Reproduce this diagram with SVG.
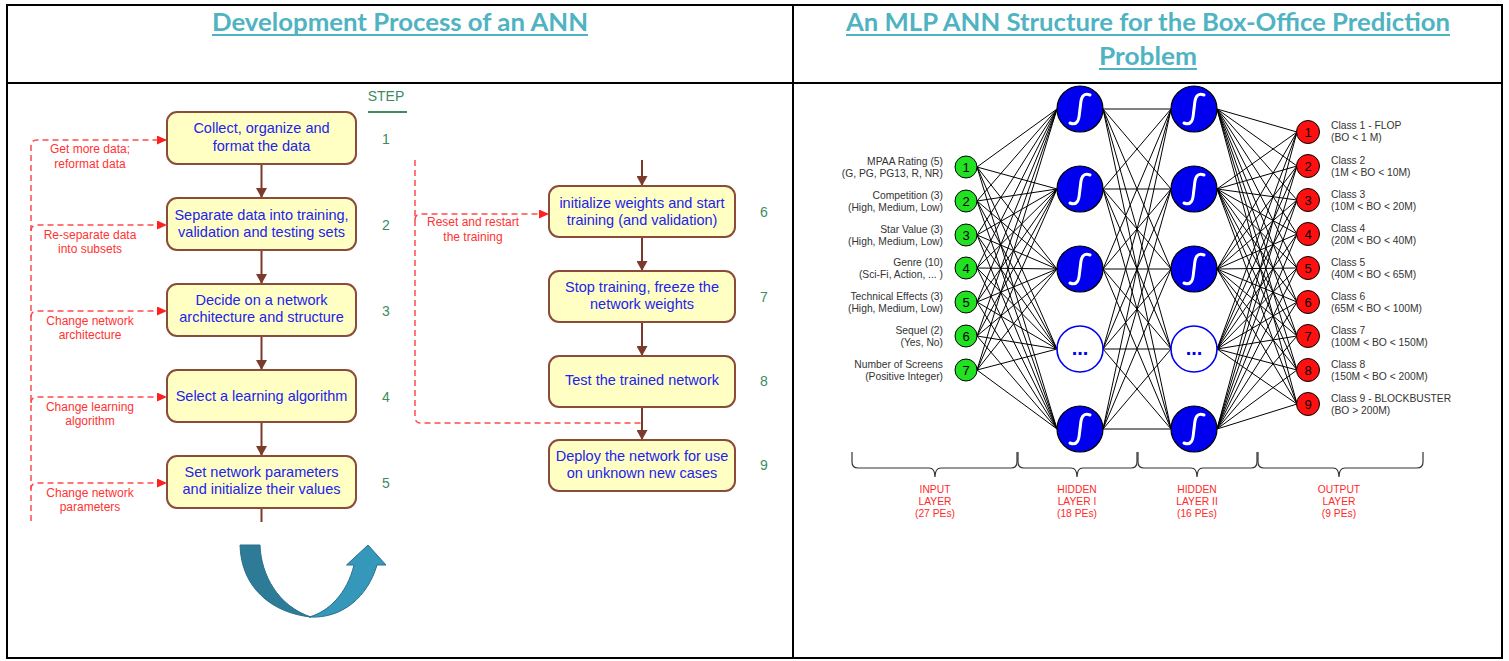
<svg xmlns="http://www.w3.org/2000/svg" xmlns:xlink="http://www.w3.org/1999/xlink" width="1509" height="661" viewBox="0 0 1509 661">
<style>
.frame{fill:none;stroke:#000;stroke-width:2}
.title{font-family:Lato,"Open Sans","Liberation Sans",sans-serif;font-weight:700;font-size:24px;fill:#4fb3c2;text-anchor:middle}
.tu{stroke:#4fb3c2;stroke-width:2}
.box{fill:#ffffc4;stroke:#8a4b3b;stroke-width:2}
.bt{font-family:"Liberation Sans",Arial,sans-serif;font-size:14.5px;fill:#2222ee;text-anchor:middle}
.rl{font-family:"Liberation Sans",Arial,sans-serif;font-size:12px;fill:#ff3333;text-anchor:middle}
.sn{font-family:"Liberation Sans",Arial,sans-serif;font-size:14px;fill:#3c8c5c;text-anchor:middle}
.flow{stroke:#7b3a2c;stroke-width:2;fill:none}
.fb{stroke:#ff4a4a;stroke-width:1.5;stroke-dasharray:6 4;fill:none}
.nl{stroke:#000;stroke-width:1;fill:none}
.in{fill:#22e022;stroke:#000;stroke-width:1}
.out{fill:#ff1010;stroke:#000;stroke-width:1}
.hid{fill:#0000ee;stroke:#000;stroke-width:1.2}
.dots{fill:#fff;stroke:#0000ee;stroke-width:1.6}
.sig{fill:none;stroke:#fff;stroke-width:3;stroke-linecap:round}
.nn{font-family:"Liberation Sans",Arial,sans-serif;font-size:13px;fill:#000;text-anchor:middle}
.dt{font-family:"Liberation Sans",Arial,sans-serif;font-size:20px;font-weight:700;fill:#0000ee;text-anchor:middle}
.lbl{font-family:"Liberation Sans",Arial,sans-serif;font-size:10.3px;fill:#333}
.li{text-anchor:end}
.ll{font-family:"Liberation Sans",Arial,sans-serif;font-size:10.3px;fill:#ff2a2a;text-anchor:middle}
.brace{fill:none;stroke:#333;stroke-width:1.2}
</style>
<defs>
<marker id="ab" markerUnits="userSpaceOnUse" markerWidth="10" markerHeight="11" refX="10" refY="5.5" orient="auto"><path d="M0,0L10,5.5L0,11z" fill="#7b3a2c"/></marker>
<marker id="ar" markerUnits="userSpaceOnUse" markerWidth="10" markerHeight="9" refX="10" refY="4.5" orient="auto"><path d="M0,0L10,4.5L0,9z" fill="#ff2020"/></marker>
<path id="sgm" class="sig" d="M-10,14C-3,17 -1,11 -0.5,4L0.5,-4C1,-11 3,-17 10,-14"/>
</defs>
<rect width="1509" height="661" fill="#fff"/>
<g id="table">
<rect class="frame" x="7" y="5" width="1495" height="653"/>
<line class="frame" x1="7" y1="83" x2="1502" y2="83"/>
<line class="frame" x1="793" y1="5" x2="793" y2="658"/>
</g>
<g id="titles">
<text class="title" x="400" y="31" textLength="376" lengthAdjust="spacingAndGlyphs">Development Process of an ANN</text>
<line class="tu" x1="212" y1="35" x2="588" y2="35"/>
<text class="title" x="1148" y="31" textLength="604" lengthAdjust="spacingAndGlyphs">An MLP ANN Structure for the Box-Office Prediction</text>
<line class="tu" x1="846" y1="35" x2="1450" y2="35"/>
<text class="title" x="1148" y="65" textLength="98" lengthAdjust="spacingAndGlyphs">Problem</text>
<line class="tu" x1="1099" y1="69" x2="1197" y2="69"/>
</g>
<g id="connectors">
<line class="flow" x1="261.5" y1="164" x2="261.5" y2="198" marker-end="url(#ab)"/>
<line class="flow" x1="261.5" y1="250" x2="261.5" y2="284" marker-end="url(#ab)"/>
<line class="flow" x1="261.5" y1="336" x2="261.5" y2="370" marker-end="url(#ab)"/>
<line class="flow" x1="261.5" y1="422" x2="261.5" y2="456" marker-end="url(#ab)"/>
<line class="flow" x1="261.5" y1="508" x2="261.5" y2="522"/>
<line class="flow" x1="642" y1="160" x2="642" y2="186" marker-end="url(#ab)"/>
<line class="flow" x1="642" y1="237" x2="642" y2="271" marker-end="url(#ab)"/>
<line class="flow" x1="642" y1="322" x2="642" y2="356" marker-end="url(#ab)"/>
<line class="flow" x1="642" y1="407" x2="642" y2="440" marker-end="url(#ab)"/>
<path class="fb" d="M31,521V146Q31,140 37,140H167" marker-end="url(#ar)"/>
<path class="fb" d="M31,231Q31,225 37,225H167" marker-end="url(#ar)"/>
<path class="fb" d="M31,317Q31,311 37,311H167" marker-end="url(#ar)"/>
<path class="fb" d="M31,403Q31,397 37,397H167" marker-end="url(#ar)"/>
<path class="fb" d="M31,489Q31,483 37,483H167" marker-end="url(#ar)"/>
<path class="fb" d="M415,160V417Q415,423 421,423H642"/>
<path class="fb" d="M415,220Q415,214 421,214H549" marker-end="url(#ar)"/>
<g id="net-lines">
<path class="nl" d="M977,167L1057,109M977,167L1057,189M977,167L1057,269M977,167L1057,349M977,167L1057,429"/>
<path class="nl" d="M977,201L1057,109M977,201L1057,189M977,201L1057,269M977,201L1057,349M977,201L1057,429"/>
<path class="nl" d="M977,235L1057,109M977,235L1057,189M977,235L1057,269M977,235L1057,349M977,235L1057,429"/>
<path class="nl" d="M977,268L1057,109M977,268L1057,189M977,268L1057,269M977,268L1057,349M977,268L1057,429"/>
<path class="nl" d="M977,302L1057,109M977,302L1057,189M977,302L1057,269M977,302L1057,349M977,302L1057,429"/>
<path class="nl" d="M977,336L1057,109M977,336L1057,189M977,336L1057,269M977,336L1057,349M977,336L1057,429"/>
<path class="nl" d="M977,370L1057,109M977,370L1057,189M977,370L1057,269M977,370L1057,349M977,370L1057,429"/>
<path class="nl" d="M1103,109L1171,109M1103,109L1171,189M1103,109L1171,269M1103,109L1171,349M1103,109L1171,429"/>
<path class="nl" d="M1103,189L1171,109M1103,189L1171,189M1103,189L1171,269M1103,189L1171,349M1103,189L1171,429"/>
<path class="nl" d="M1103,269L1171,109M1103,269L1171,189M1103,269L1171,269M1103,269L1171,349M1103,269L1171,429"/>
<path class="nl" d="M1103,349L1171,109M1103,349L1171,189M1103,349L1171,269M1103,349L1171,349M1103,349L1171,429"/>
<path class="nl" d="M1103,429L1171,109M1103,429L1171,189M1103,429L1171,269M1103,429L1171,349M1103,429L1171,429"/>
<path class="nl" d="M1217,109L1297,132M1217,109L1297,166M1217,109L1297,200M1217,109L1297,234M1217,109L1297,268M1217,109L1297,302M1217,109L1297,336M1217,109L1297,370M1217,109L1297,404"/>
<path class="nl" d="M1217,189L1297,132M1217,189L1297,166M1217,189L1297,200M1217,189L1297,234M1217,189L1297,268M1217,189L1297,302M1217,189L1297,336M1217,189L1297,370M1217,189L1297,404"/>
<path class="nl" d="M1217,269L1297,132M1217,269L1297,166M1217,269L1297,200M1217,269L1297,234M1217,269L1297,268M1217,269L1297,302M1217,269L1297,336M1217,269L1297,370M1217,269L1297,404"/>
<path class="nl" d="M1217,349L1297,132M1217,349L1297,166M1217,349L1297,200M1217,349L1297,234M1217,349L1297,268M1217,349L1297,302M1217,349L1297,336M1217,349L1297,370M1217,349L1297,404"/>
<path class="nl" d="M1217,429L1297,132M1217,429L1297,166M1217,429L1297,200M1217,429L1297,234M1217,429L1297,268M1217,429L1297,302M1217,429L1297,336M1217,429L1297,370M1217,429L1297,404"/>
</g>
</g>
<g id="step-header">
<text class="sn" x="386" y="101">STEP</text>
<line x1="368" y1="112" x2="407" y2="112" stroke="#3c8c5c" stroke-width="2"/>
</g>
<g id="step1"><rect class="box" x="167" y="112" width="189" height="52" rx="10"/><text class="bt" x="261.5" y="133">Collect, organize and</text><text class="bt" x="261.5" y="151">format the data</text><text class="sn" x="386" y="144">1</text></g>
<g id="step2"><rect class="box" x="167" y="198" width="189" height="52" rx="10"/><text class="bt" x="261.5" y="220">Separate data into training,</text><text class="bt" x="261.5" y="237">validation and testing sets</text><text class="sn" x="386" y="230">2</text></g>
<g id="step3"><rect class="box" x="167" y="284" width="189" height="52" rx="10"/><text class="bt" x="261.5" y="305">Decide on a network</text><text class="bt" x="261.5" y="322">architecture and structure</text><text class="sn" x="386" y="316">3</text></g>
<g id="step4"><rect class="box" x="167" y="370" width="189" height="52" rx="10"/><text class="bt" x="261.5" y="401">Select a learning algorithm</text><text class="sn" x="386" y="402">4</text></g>
<g id="step5"><rect class="box" x="167" y="456" width="189" height="52" rx="10"/><text class="bt" x="261.5" y="477">Set network parameters</text><text class="bt" x="261.5" y="494">and initialize their values</text><text class="sn" x="386" y="488">5</text></g>
<g id="step6"><rect class="box" x="549" y="186" width="186" height="51" rx="10"/><text class="bt" x="642" y="208">initialize weights and start</text><text class="bt" x="642" y="225">training (and validation)</text><text class="sn" x="764" y="217">6</text></g>
<g id="step7"><rect class="box" x="549" y="271" width="186" height="51" rx="10"/><text class="bt" x="642" y="292">Stop training, freeze the</text><text class="bt" x="642" y="309">network weights</text><text class="sn" x="764" y="302">7</text></g>
<g id="step8"><rect class="box" x="549" y="356" width="186" height="51" rx="10"/><text class="bt" x="642" y="385">Test the trained network</text><text class="sn" x="764" y="386">8</text></g>
<g id="step9"><rect class="box" x="549" y="440" width="186" height="51" rx="10"/><text class="bt" x="642" y="461">Deploy the network for use</text><text class="bt" x="642" y="478">on unknown new cases</text><text class="sn" x="764" y="470">9</text></g>
<g id="feedback-labels">
<text class="rl" x="90" y="153">Get more data;</text><text class="rl" x="90" y="168">reformat data</text>
<text class="rl" x="90" y="239">Re-separate data</text><text class="rl" x="90" y="253">into subsets</text>
<text class="rl" x="90" y="325">Change network</text><text class="rl" x="90" y="339">architecture</text>
<text class="rl" x="90" y="411">Change learning</text><text class="rl" x="90" y="425">algorithm</text>
<text class="rl" x="90" y="497">Change network</text><text class="rl" x="90" y="511">parameters</text>
<text class="rl" x="473" y="226">Reset and restart</text><text class="rl" x="473" y="241">the training</text>
</g>
<g id="uturn-arrow" stroke="#28708b" stroke-width="1">
<path d="M240,545L260,545C261,575 278,606 311,617C272,613 241,588 240,545Z" fill="#2e7b98"/>
<path d="M309,617C328,612 347,594 354,565L346.5,565L368,545L386,565L377,565C368,596 343,619 309,617Z" fill="#3597ba"/>
</g>
<g id="input-layer">
<g id="in1"><circle class="in" cx="966" cy="167" r="11"/><text class="nn" x="966" y="172">1</text><text class="lbl li" x="943" y="165">MPAA Rating (5)</text><text class="lbl li" x="943" y="177">(G, PG, PG13, R, NR)</text></g>
<g id="in2"><circle class="in" cx="966" cy="201" r="11"/><text class="nn" x="966" y="206">2</text><text class="lbl li" x="943" y="199">Competition (3)</text><text class="lbl li" x="943" y="211">(High, Medium, Low)</text></g>
<g id="in3"><circle class="in" cx="966" cy="235" r="11"/><text class="nn" x="966" y="240">3</text><text class="lbl li" x="943" y="233">Star Value (3)</text><text class="lbl li" x="943" y="245">(High, Medium, Low)</text></g>
<g id="in4"><circle class="in" cx="966" cy="268" r="11"/><text class="nn" x="966" y="273">4</text><text class="lbl li" x="943" y="266">Genre (10)</text><text class="lbl li" x="943" y="278">(Sci-Fi, Action, ... )</text></g>
<g id="in5"><circle class="in" cx="966" cy="302" r="11"/><text class="nn" x="966" y="307">5</text><text class="lbl li" x="943" y="300">Technical Effects (3)</text><text class="lbl li" x="943" y="312">(High, Medium, Low)</text></g>
<g id="in6"><circle class="in" cx="966" cy="336" r="11"/><text class="nn" x="966" y="341">6</text><text class="lbl li" x="943" y="334">Sequel (2)</text><text class="lbl li" x="943" y="346">(Yes, No)</text></g>
<g id="in7"><circle class="in" cx="966" cy="370" r="11"/><text class="nn" x="966" y="375">7</text><text class="lbl li" x="943" y="368">Number of Screens</text><text class="lbl li" x="943" y="380">(Positive Integer)</text></g>
</g>
<g id="hidden-layer-1">
<g id="h1a"><circle class="hid" cx="1080" cy="109" r="23"/><use href="#sgm" x="1080" y="109"/></g>
<g id="h1b"><circle class="hid" cx="1080" cy="189" r="23"/><use href="#sgm" x="1080" y="189"/></g>
<g id="h1c"><circle class="hid" cx="1080" cy="269" r="23"/><use href="#sgm" x="1080" y="269"/></g>
<g id="h1d"><circle class="dots" cx="1080" cy="349" r="23"/><text class="dt" x="1080" y="355">...</text></g>
<g id="h1e"><circle class="hid" cx="1080" cy="429" r="23"/><use href="#sgm" x="1080" y="429"/></g>
</g>
<g id="hidden-layer-2">
<g id="h2a"><circle class="hid" cx="1194" cy="109" r="23"/><use href="#sgm" x="1194" y="109"/></g>
<g id="h2b"><circle class="hid" cx="1194" cy="189" r="23"/><use href="#sgm" x="1194" y="189"/></g>
<g id="h2c"><circle class="hid" cx="1194" cy="269" r="23"/><use href="#sgm" x="1194" y="269"/></g>
<g id="h2d"><circle class="dots" cx="1194" cy="349" r="23"/><text class="dt" x="1194" y="355">...</text></g>
<g id="h2e"><circle class="hid" cx="1194" cy="429" r="23"/><use href="#sgm" x="1194" y="429"/></g>
</g>
<g id="output-layer">
<g id="o1"><circle class="out" cx="1308" cy="132" r="11.5"/><text class="nn" x="1308" y="137">1</text><text class="lbl" x="1331" y="129">Class 1 - FLOP</text><text class="lbl" x="1331" y="141">(BO &lt; 1 M)</text></g>
<g id="o2"><circle class="out" cx="1308" cy="166" r="11.5"/><text class="nn" x="1308" y="171">2</text><text class="lbl" x="1331" y="164">Class 2</text><text class="lbl" x="1331" y="176">(1M &lt; BO &lt; 10M)</text></g>
<g id="o3"><circle class="out" cx="1308" cy="200" r="11.5"/><text class="nn" x="1308" y="205">3</text><text class="lbl" x="1331" y="198">Class 3</text><text class="lbl" x="1331" y="210">(10M &lt; BO &lt; 20M)</text></g>
<g id="o4"><circle class="out" cx="1308" cy="234" r="11.5"/><text class="nn" x="1308" y="239">4</text><text class="lbl" x="1331" y="232">Class 4</text><text class="lbl" x="1331" y="244">(20M &lt; BO &lt; 40M)</text></g>
<g id="o5"><circle class="out" cx="1308" cy="268" r="11.5"/><text class="nn" x="1308" y="273">5</text><text class="lbl" x="1331" y="266">Class 5</text><text class="lbl" x="1331" y="278">(40M &lt; BO &lt; 65M)</text></g>
<g id="o6"><circle class="out" cx="1308" cy="302" r="11.5"/><text class="nn" x="1308" y="307">6</text><text class="lbl" x="1331" y="300">Class 6</text><text class="lbl" x="1331" y="312">(65M &lt; BO &lt; 100M)</text></g>
<g id="o7"><circle class="out" cx="1308" cy="336" r="11.5"/><text class="nn" x="1308" y="341">7</text><text class="lbl" x="1331" y="334">Class 7</text><text class="lbl" x="1331" y="346">(100M &lt; BO &lt; 150M)</text></g>
<g id="o8"><circle class="out" cx="1308" cy="370" r="11.5"/><text class="nn" x="1308" y="375">8</text><text class="lbl" x="1331" y="368">Class 8</text><text class="lbl" x="1331" y="380">(150M &lt; BO &lt; 200M)</text></g>
<g id="o9"><circle class="out" cx="1308" cy="404" r="11.5"/><text class="nn" x="1308" y="409">9</text><text class="lbl" x="1331" y="402">Class 9 - BLOCKBUSTER</text><text class="lbl" x="1331" y="414">(BO &gt; 200M)</text></g>
</g>
<g id="layer-braces">
<path class="brace" d="M852,452V462Q852,468 858,468H929Q935,468 935,477Q935,468 941,468H1011Q1017,468 1017,462V452"/>
<path class="brace" d="M1018,452V462Q1018,468 1024,468H1071Q1077,468 1077,477Q1077,468 1083,468H1131Q1137,468 1137,462V452"/>
<path class="brace" d="M1138,452V462Q1138,468 1144,468H1191Q1197,468 1197,477Q1197,468 1203,468H1251Q1257,468 1257,462V452"/>
<path class="brace" d="M1258,452V462Q1258,468 1264,468H1333Q1339,468 1339,477Q1339,468 1345,468H1417Q1423,468 1423,462V452"/>
<text class="ll" x="935" y="493">INPUT</text><text class="ll" x="935" y="505">LAYER</text><text class="ll" x="935" y="517">(27 PEs)</text>
<text class="ll" x="1077" y="493">HIDDEN</text><text class="ll" x="1077" y="505">LAYER I</text><text class="ll" x="1077" y="517">(18 PEs)</text>
<text class="ll" x="1197" y="493">HIDDEN</text><text class="ll" x="1197" y="505">LAYER II</text><text class="ll" x="1197" y="517">(16 PEs)</text>
<text class="ll" x="1339" y="493">OUTPUT</text><text class="ll" x="1339" y="505">LAYER</text><text class="ll" x="1339" y="517">(9 PEs)</text>
</g>
</svg>
